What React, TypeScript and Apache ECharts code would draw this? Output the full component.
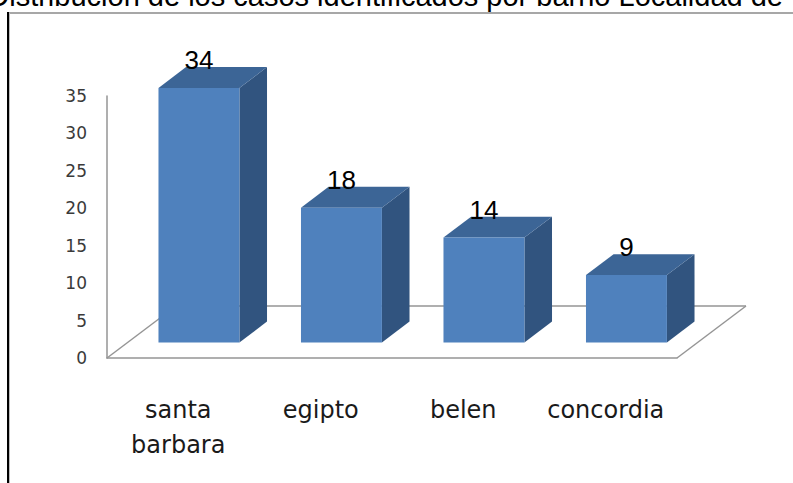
import React, { useEffect, useRef } from "react";
import * as echarts from "echarts";

const titleText = "Distribución de los casos identificados por barrio Localidad de";
const categories = ["santa\nbarbara", "egipto", "belen", "concordia"];
const values = [34, 18, 14, 9];
const yMin = 0;
const yMax = 35;
const yInterval = 5;

// 3D styling constants (pixels)
const DEPTH_X = 69;
const DEPTH_Y = 52;
const BAR_FRONT = 0.3;
const BAR_BACK = 0.7;
const BAR_WIDTH_RATIO = 0.568;

const FRONT = "#4F81BD";
const SIDE = "#31547F";
const TOP = "#3C6596";
const FLOOR = "#959595";

export default function App() {
  const ref = useRef<HTMLDivElement>(null);
  useEffect(() => {
    if (!ref.current) return;
    const chart = echarts.init(ref.current, undefined, { renderer: "svg" });
    const option: any = {
      animation: false,
      backgroundColor: "#ffffff",
      grid: { left: 107, right: 116, top: 96, bottom: 125, containLabel: false },
      xAxis: {
        type: "category",
        data: categories,
        axisLine: { show: true, lineStyle: { color: FLOOR, width: 1.5 } },
        axisTick: { show: false },
        axisLabel: {
          margin: 34,
          fontSize: 24,
          lineHeight: 35,
          fontFamily: "DejaVu Sans",
          color: "#1a1a1a",
          interval: 0,
        },
        splitLine: { show: false },
      },
      yAxis: {
        type: "value",
        min: yMin,
        max: yMax,
        interval: yInterval,
        axisLine: { show: true, lineStyle: { color: FLOOR, width: 1.5 } },
        axisTick: { show: false },
        splitLine: { show: false },
        axisLabel: {
          margin: 20,
          fontSize: 17,
          fontFamily: "DejaVu Sans",
          color: "#3a3a3a",
        },
      },
      graphic: [
        {
          type: "text",
          x: 783,
          y: -4,
          style: {
            text: titleText,
            textAlign: "right",
            textVerticalAlign: "middle",
            font: "29px 'Liberation Sans', Arial, sans-serif",
            fill: "#000",
          },
        },
        {
          type: "line",
          shape: { x1: 8, y1: 13, x2: 793, y2: 13 },
          style: { stroke: "#8a8a8a", lineWidth: 1.5 },
        },
        {
          type: "line",
          shape: { x1: 8, y1: 12, x2: 8, y2: 483 },
          style: { stroke: "#000", lineWidth: 2 },
        },
        {
          type: "line",
          shape: { x1: 9.5, y1: 13, x2: 9.5, y2: 483 },
          style: { stroke: "#bdbdbd", lineWidth: 1 },
        },
      ],
      series: [
        {
          type: "custom",
          z: 1,
          data: [[0]],
          silent: true,
          renderItem: (params: any) => {
            const cs = params.coordSys;
            const x0 = cs.x;
            const x1 = cs.x + cs.width;
            const yb = cs.y + cs.height;
            const yk = yb - DEPTH_Y;
            const ls = { stroke: FLOOR, lineWidth: 1.5, fill: "none" };
            return {
              type: "group",
              children: [
                { type: "line", shape: { x1: x0, y1: yb, x2: x0 + DEPTH_X, y2: yk }, style: ls },
                { type: "line", shape: { x1: x0 + DEPTH_X, y1: yk, x2: x1 + DEPTH_X, y2: yk }, style: ls },
                { type: "line", shape: { x1: x1, y1: yb, x2: x1 + DEPTH_X, y2: yk }, style: ls },
              ],
            };
          },
        },
        {
          type: "custom",
          z: 2,
          data: values.map((v, i) => [i, v]),
          renderItem: (params: any, api: any) => {
            const i = api.value(0);
            const v = api.value(1);
            const base = api.coord([i, 0]);
            const top = api.coord([i, v]);
            const slot = api.size([1, 0])[0];
            const w = slot * BAR_WIDTH_RATIO;
            const fx = DEPTH_X * BAR_FRONT;
            const fy = DEPTH_Y * BAR_FRONT;
            const dx = DEPTH_X * (BAR_BACK - BAR_FRONT);
            const dy = DEPTH_Y * (BAR_BACK - BAR_FRONT);
            const xl = base[0] - w / 2 + fx;
            const xr = xl + w;
            const yb = base[1] - fy;
            const yt = top[1] - fy;
            return {
              type: "group",
              children: [
                {
                  type: "polygon",
                  shape: { points: [[xr, yt], [xr + dx, yt - dy], [xr + dx, yb - dy], [xr, yb]] },
                  style: { fill: SIDE },
                },
                {
                  type: "polygon",
                  shape: { points: [[xl, yt], [xl + dx, yt - dy], [xr + dx, yt - dy], [xr, yt]] },
                  style: { fill: TOP },
                },
                {
                  type: "polygon",
                  shape: { points: [[xl, yt], [xr, yt], [xr, yb], [xl, yb]] },
                  style: { fill: FRONT },
                },
                {
                  type: "text",
                  x: (xl + xr) / 2,
                  y: yt - 28,
                  style: {
                    text: String(v),
                    textAlign: "center",
                    textVerticalAlign: "middle",
                    font: "26px 'Liberation Sans', Arial, sans-serif",
                    fill: "#000",
                  },
                },
              ],
            };
          },
        },
      ],
    };
    chart.setOption(option);
    return () => chart.dispose();
  }, []);
  return (
    <div
      ref={ref}
      style={{ position: "absolute", left: 0, top: 0, width: 793, height: 483 }}
    />
  );
}
